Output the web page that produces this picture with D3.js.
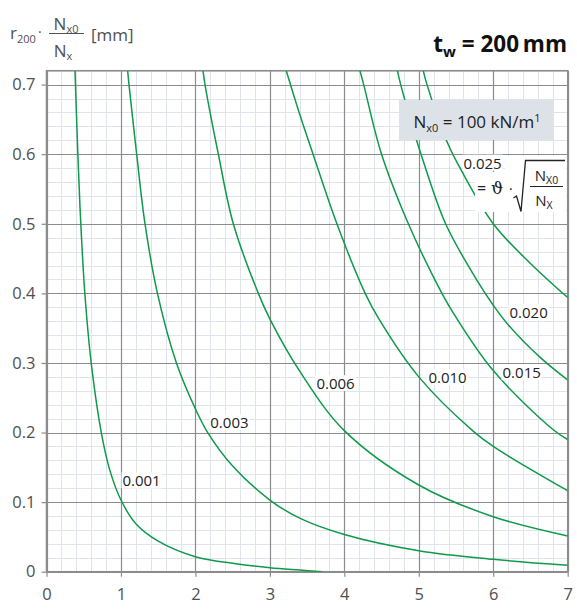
<!DOCTYPE html>
<html>
<head>
<meta charset="utf-8">
<script src="https://cdn.jsdelivr.net/npm/d3@7"></script>
<style>
  body { margin: 0; background: #fff; }
  svg { display: block; font-family: "Open Sans", "Noto Sans", sans-serif; }
</style>
</head>
<body>
<svg id="chart" width="577" height="609"></svg>
<script>
// Axis ticks
const xTicks = [0, 1, 2, 3, 4, 5, 6, 7];
const yTicks = [0, 0.1, 0.2, 0.3, 0.4, 0.5, 0.6, 0.7];
const xMinor = d3.range(0, 7.0001, 0.2);
const yMinor = d3.range(0, 0.72001, 0.02);

// Curve families, one per rotation value ϑ
const curveNames = ["0.001", "0.003", "0.006", "0.010", "0.015", "0.020", "0.025"];
const c001 = [[0.383,0.72],[0.423,0.595],[0.463,0.495],[0.517,0.397],[0.607,0.294],[0.741,0.197],[0.85,0.146],[1.0,0.103],[1.2,0.069],[1.5,0.044],[2.0,0.0216],[2.5,0.012],[3.0,0.0058],[3.4,0.0024],[3.7,0.0]];
const c003 = [[1.09,0.72],[1.108,0.7],[1.211,0.6],[1.323,0.5],[1.49,0.4],[1.745,0.3],[2.0,0.234],[2.165,0.2],[2.5,0.152],[3.0,0.103],[3.4,0.077],[4.0,0.0535],[5.0,0.0302],[6.0,0.0178],[7.0,0.0092]];
const c006 = [[2.102,0.72],[2.129,0.7],[2.308,0.6],[2.509,0.5],[2.845,0.4],[3.006,0.362],[3.405,0.2875],[4.0,0.2027],[5.0,0.1246],[6.0,0.079],[7.0,0.0513]];
const c010 = [[3.22,0.72],[3.405,0.656],[3.58,0.6],[3.9,0.5],[4.28,0.4],[4.46,0.364],[5.0,0.28],[5.73,0.202],[6.0,0.18],[7.0,0.1164]];
const c015 = [[4.21,0.72],[4.26,0.7],[4.5,0.6],[4.86,0.5],[5.22,0.4188],[5.44,0.376],[6.0,0.289],[6.81,0.2037],[7.0,0.19]];
const c020 = [[4.712,0.72],[4.757,0.7],[4.97,0.62],[5.03,0.6],[5.36,0.5],[5.78,0.419],[6.0,0.383],[6.2,0.355],[6.63,0.308],[7.0,0.2755]];
const c025 = [[5.06,0.72],[5.11,0.7],[5.375,0.619],[5.51,0.589],[6.0,0.5],[6.5,0.443],[7.0,0.394]];
const curves = [c001, c003, c006, c010, c015, c020, c025];

const svg = d3.select("#chart");
const W = 577, H = 609;
const margin = { left: 46.5, right: 9.3, top: 70.7, bottom: 37.3 };

const x = d3.scaleLinear().domain([0, 7]).range([margin.left, W - margin.right]);
const y = d3.scaleLinear().domain([0, 0.72]).range([H - margin.bottom, margin.top]);

const minorColor = "#dfe4ea";
const majorColor = "#8c8c8c";
const green = "#0e9a4a";
const textGray = "#505050";

// Minor grid
const grid = svg.append("g");
grid.selectAll("line.vminor").data(xMinor).join("line")
  .attr("x1", d => Math.round(x(d)) + 0.5).attr("x2", d => Math.round(x(d)) + 0.5)
  .attr("y1", y(0)).attr("y2", y(0.72))
  .attr("stroke", minorColor).attr("stroke-width", 1);
grid.selectAll("line.hminor").data(yMinor).join("line")
  .attr("y1", d => Math.round(y(d)) + 0.5).attr("y2", d => Math.round(y(d)) + 0.5)
  .attr("x1", x(0)).attr("x2", x(7))
  .attr("stroke", minorColor).attr("stroke-width", 1);

// Major grid
grid.selectAll("line.vmajor").data(xTicks).join("line")
  .attr("x1", d => Math.round(x(d)) + 0.5).attr("x2", d => Math.round(x(d)) + 0.5)
  .attr("y1", y(0)).attr("y2", y(0.72))
  .attr("stroke", majorColor).attr("stroke-width", 1.2);
grid.selectAll("line.hmajor").data(yTicks).join("line")
  .attr("y1", d => Math.round(y(d)) + 0.5).attr("y2", d => Math.round(y(d)) + 0.5)
  .attr("x1", x(0)).attr("x2", x(7))
  .attr("stroke", majorColor).attr("stroke-width", 1.2);

// Frame
svg.append("rect")
  .attr("x", x(0)).attr("y", y(0.72))
  .attr("width", x(7) - x(0)).attr("height", y(0) - y(0.72))
  .attr("fill", "none").attr("stroke", majorColor).attr("stroke-width", 1.5);

// Axes
const xAxis = svg.append("g").attr("transform", `translate(0,${y(0)})`)
  .call(d3.axisBottom(x).tickValues(xTicks).tickFormat(d3.format("d")).tickSize(5).tickPadding(12));
const yAxis = svg.append("g").attr("transform", `translate(${x(0)},0)`)
  .call(d3.axisLeft(y).tickValues(yTicks).tickFormat(d => d === 0 ? "0" : d3.format(".1f")(d)).tickSize(5).tickPadding(6));
[xAxis, yAxis].forEach(g => {
  g.select(".domain").remove();
  g.selectAll(".tick line").attr("stroke", majorColor).attr("stroke-width", 1.2);
  g.selectAll(".tick text").attr("fill", textGray)
    .style("font-family", '"Open Sans", sans-serif').style("font-size", "16.5px");
});

// Plot clip
svg.append("clipPath").attr("id", "plotClip").append("rect")
  .attr("x", x(0)).attr("y", y(0.72)).attr("width", x(7) - x(0)).attr("height", y(0) - y(0.72));

const line = d3.line().x(d => x(d[0])).y(d => y(d[1])).curve(d3.curveCatmullRom.alpha(0.5));
svg.append("g").attr("clip-path", "url(#plotClip)")
  .selectAll("path").data(curves).join("path")
  .attr("d", line).attr("fill", "none")
  .attr("stroke", green).attr("stroke-width", 1.5);

// Reference load box
const boxG = svg.append("g");
boxG.append("rect").attr("x", 399).attr("y", 100).attr("width", 154).attr("height", 40).attr("fill", "#dde2e8");
const bt = boxG.append("text").attr("x", 477).attr("y", 127.5).attr("text-anchor", "middle")
  .attr("fill", "#222").style("font-size", "17px");
bt.append("tspan").text("N");
bt.append("tspan").attr("dy", 4).style("font-size", "11px").text("x0");
bt.append("tspan").attr("dy", -4).text(" = 100 kN/m");
bt.append("tspan").attr("dy", -6).style("font-size", "11px").text("1");

// Formula backing: = ϑ · √(Nx0/Nx)
const fg = svg.append("g").attr("fill", "#222");
fg.append("rect").attr("x", 475).attr("y", 172).attr("width", 91).attr("height", 40).attr("fill", "#fff");
fg.append("rect").attr("x", 505).attr("y", 156).attr("width", 61).attr("height", 18).attr("fill", "#fff");

// Curve labels
const labelPos = [[1.02, 0.13], [2.20, 0.2137], [3.625, 0.27], [5.13, 0.2784], [6.125, 0.2856], [6.218, 0.372], [5.60, 0.5868]];
const labels = svg.append("g");
curveNames.forEach((name, i) => {
  const g = labels.append("g");
  const t = g.append("text")
    .attr("x", x(labelPos[i][0])).attr("y", y(labelPos[i][1]))
    .attr("dy", "0.35em").attr("fill", "#222").style("font-size", "15px").text(name);
  const b = t.node().getBBox();
  g.insert("rect", "text").attr("x", b.x - 1).attr("y", b.y + 2).attr("width", b.width + 2).attr("height", b.height - 4).attr("fill", "#fff");
});

fg.append("text").attr("x", 477).attr("y", 194).style("font-size", "16px").text("=");
fg.append("text").attr("x", 491).attr("y", 194).style("font-size", "17px").style("font-family", '"DejaVu Serif", serif').text("ϑ");
fg.append("text").attr("x", 509).attr("y", 194).style("font-size", "14px").text("·");
fg.append("path").attr("d", "M513.5,198 L516.5,196 L521,211.5 L525.5,160.5 L565,160.5")
  .attr("fill", "none").attr("stroke", "#222").attr("stroke-width", 1.3);
const num = fg.append("text").attr("x", 546.5).attr("y", 180.5).attr("text-anchor", "middle").style("font-size", "15px");
num.append("tspan").text("N");
num.append("tspan").attr("dy", 3).style("font-size", "10.5px").text("X0");
fg.append("line").attr("x1", 530).attr("x2", 563).attr("y1", 186.5).attr("y2", 186.5).attr("stroke", "#222").attr("stroke-width", 1.1);
const den = fg.append("text").attr("x", 544).attr("y", 206).attr("text-anchor", "middle").style("font-size", "15px");
den.append("tspan").text("N");
den.append("tspan").attr("dy", 3).style("font-size", "10.5px").text("X");

// Y-axis title: r200 · Nx0/Nx [mm]
const yt = svg.append("g").attr("fill", textGray);
const r = yt.append("text").attr("x", 10).attr("y", 39).style("font-size", "17px");
r.append("tspan").text("r");
r.append("tspan").attr("dy", 4).style("font-size", "11px").text("200");
yt.append("text").attr("x", 38).attr("y", 37).style("font-size", "14px").text("·");
const yn = yt.append("text").attr("x", 66).attr("y", 30).attr("text-anchor", "middle").style("font-size", "17px");
yn.append("tspan").text("N");
yn.append("tspan").attr("dy", 3).style("font-size", "11px").text("x0");
yt.append("line").attr("x1", 49).attr("x2", 84).attr("y1", 33.5).attr("y2", 33.5).attr("stroke", textGray).attr("stroke-width", 1);
const yd = yt.append("text").attr("x", 63).attr("y", 56.5).attr("text-anchor", "middle").style("font-size", "17px");
yd.append("tspan").text("N");
yd.append("tspan").attr("dy", 3).style("font-size", "11px").text("x");
yt.append("text").attr("x", 91).attr("y", 41).style("font-size", "17px").text("[mm]");

// Title: tw = 200 mm
const title = svg.append("text").attr("x", 567).attr("y", 52).attr("text-anchor", "end")
  .attr("fill", "#111").style("font-size", "22.5px").style("font-weight", "bold");
title.append("tspan").text("t");
title.append("tspan").attr("dy", 5).style("font-size", "15px").text("w");
title.append("tspan").attr("dy", -5).text(" = 200\u2009mm");
</script>
</body>
</html>
